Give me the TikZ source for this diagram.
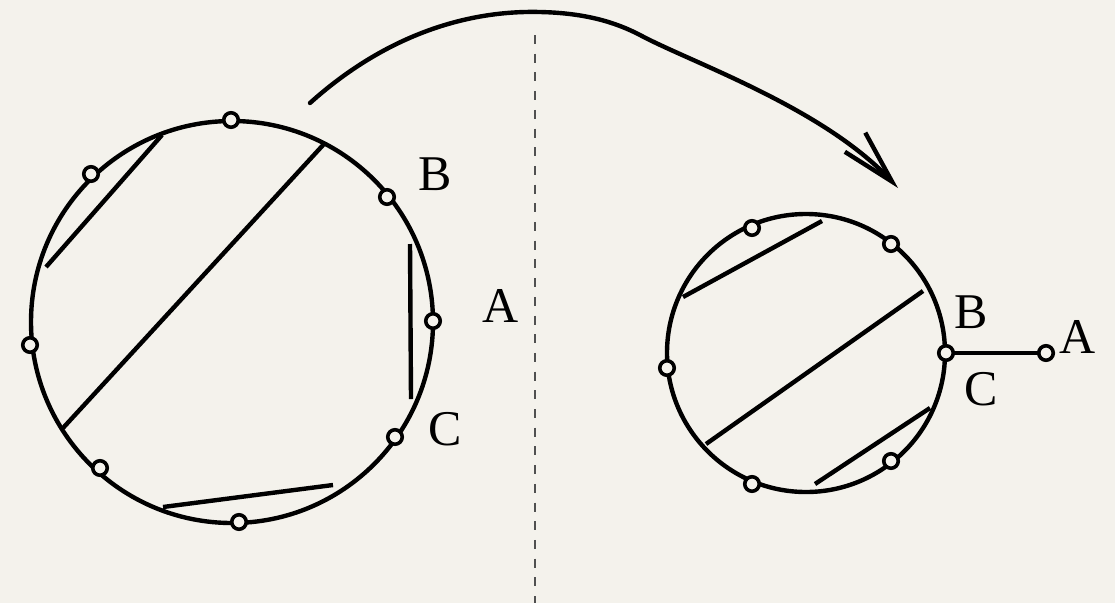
\documentclass[tikz,border=0pt]{standalone}
\usepackage{fontspec}
\setmainfont{Liberation Serif}
\usetikzlibrary{arrows.meta}
\definecolor{bg}{RGB}{244,242,236}
\definecolor{dashc}{RGB}{80,80,80}
\tikzset{
  bigc/.style={draw, circle, line width=4.4pt, inner sep=0pt, outer sep=0pt},
  pt/.style={draw, circle, line width=3.6pt, fill=bg, minimum size=14.5pt, inner sep=0pt, outer sep=0pt},
  chord/.style={line width=4.4pt},
  lbl/.style={inner sep=0pt, font=\fontsize{50}{50}\selectfont},
  sep/.style={draw=dashc, line width=2pt, dash pattern=on 9pt off 9.7pt},
  bigarrow/.style={line width=4.4pt, -{Straight Barb[length=54pt, width=28pt, line width=4.4pt]}}
}
\begin{document}
\begin{tikzpicture}[x=1pt, y=-1pt]
\useasboundingbox (0,0) rectangle (1115,603);
\fill[bg] (0,0) rectangle (1115,603);

% separator
\coordinate (dTop) at (535,35);
\coordinate (dBot) at (535,603);
\draw[sep] (dTop) -- (dBot);

% left circle
\node[bigc, minimum size=402pt] (LC) at (232,322) {};
\draw[chord] (46,267) -- (162,135);
\draw[chord] (63,428) -- (324,144);
\draw[chord] (410,244) -- (411,399);
\draw[chord] (163,507) -- (333,485);
\node[pt] (L1) at (231,120) {};
\node[pt] (L2) at (91,174) {};
\node[pt] (LB) at (387,197) {};
\node[pt] (LA) at (433,321) {};
\node[pt] (L5) at (30,345) {};
\node[pt] (LCp) at (395,437) {};
\node[pt] (L7) at (100,468) {};
\node[pt] (L8) at (239,522) {};
\node[lbl] (lB) at (435,174) {B};
\node[lbl] (lA) at (501,306) {A};
\node[lbl] (lC) at (445,429) {C};

% right circle
\node[bigc, minimum size=278pt] (RC) at (806,353) {};
\draw[chord] (683,297) -- (822,221);
\draw[chord] (706,444) -- (923,291);
\draw[chord] (815,484) -- (930,408);
\node[pt] (R1) at (752,228) {};
\node[pt] (R2) at (891,244) {};
\node[pt] (R3) at (667,368) {};
\node[pt] (R5) at (891,461) {};
\node[pt] (R6) at (752,484) {};
\node[pt] (RBC) at (946,353) {};
\node[pt] (RA) at (1046,353) {};
\draw[chord] (RBC) -- (RA);
\node[lbl] (rB) at (971,312) {B};
\node[lbl] (rA) at (1078,337) {A};
\node[lbl] (rC) at (981,389) {C};

% arrow
\coordinate (arrS) at (310,103);
\coordinate (arrM1) at (540,12);
\coordinate (arrM2) at (640,35);
\coordinate (arrE) at (898,188);
\draw[bigarrow, line cap=round] (arrS) .. controls (380,40) and (460,10) .. (arrM1)
  .. controls (585,13) and (615,22) .. (arrM2)
  .. controls (690,62) and (822,107) .. (arrE);
\end{tikzpicture}
\end{document}
